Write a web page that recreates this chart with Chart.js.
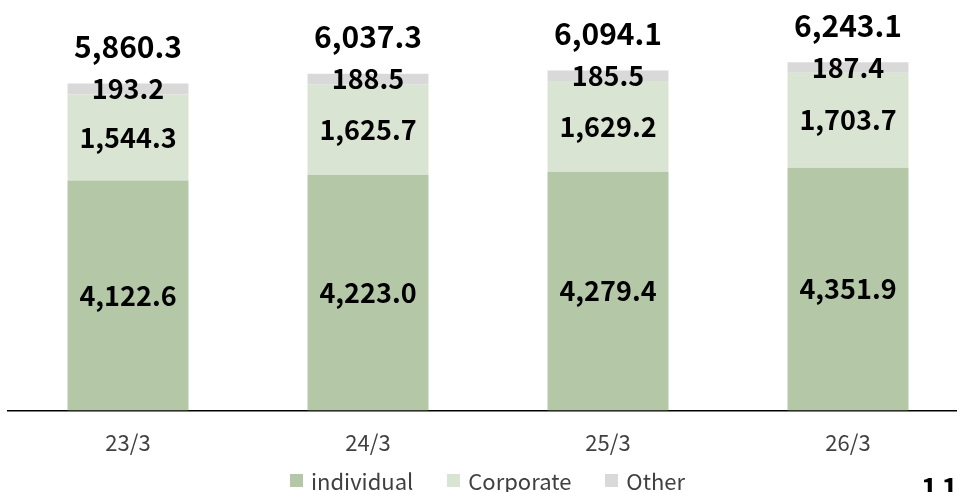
<!DOCTYPE html>
<html>
<head>
<meta charset="utf-8">
<script src="https://cdn.jsdelivr.net/npm/chart.js@4.4.1/dist/chart.umd.min.js"></script>
<style>
  html, body { margin: 0; padding: 0; background: #fff; overflow: hidden; }
  #wrap { position: relative; width: 968px; height: 492px; }
  #pageNo { position: absolute; left: 921px; top: 466px; font: bold 28px "Noto Sans CJK JP", "Noto Sans", sans-serif; color: #000; letter-spacing: 4px; }
  #legend { position: absolute; left: 290px; top: 465px; display: flex; align-items: center;
            font: 22px "Noto Sans CJK JP", "Noto Sans", sans-serif; color: #404040; line-height: 30px; }
  #legend .item { display: flex; align-items: center; margin-right: 34px; }
  #legend .box { width: 13px; height: 13px; margin-right: 8px; }
</style>
</head>
<body>
<div id="wrap">
  <canvas id="salesChart" width="968" height="492"></canvas>
  <div id="legend"></div>
  <div id="pageNo">11</div>
</div>
<script>
// chart data
const categories = ['23/3', '24/3', '25/3', '26/3'];
const individualValues = [4122.6, 4223.0, 4279.4, 4351.9];
const corporateValues = [1544.3, 1625.7, 1629.2, 1703.7];
const otherValues = [193.2, 188.5, 185.5, 187.4];
const totalValues = [5860.3, 6037.3, 6094.1, 6243.1];

const FONT = '"Noto Sans CJK JP", "Noto Sans", sans-serif';

function fmt(v) {
    return v.toLocaleString('en-US', { minimumFractionDigits: 1, maximumFractionDigits: 1 });
}

// segment values in the middle of each piece, totals above the stack
const barLabels = {
    id: 'barLabels',
    afterDatasetsDraw(chart) {
        const ctx = chart.ctx;
        ctx.save();
        ctx.fillStyle = '#000';
        ctx.textAlign = 'center';
        ctx.textBaseline = 'middle';
        ctx.font = 'bold 27px ' + FONT;
        chart.data.datasets.forEach((ds, i) => {
            const meta = chart.getDatasetMeta(i);
            meta.data.forEach((bar, j) => {
                const mid = (bar.y + bar.base) / 2;
                ctx.fillText(fmt(ds.data[j]), bar.x, mid);
            });
        });
        ctx.font = 'bold 30px ' + FONT;
        const topMeta = chart.getDatasetMeta(chart.data.datasets.length - 1);
        topMeta.data.forEach((bar, j) => {
            ctx.fillText(fmt(totalValues[j]), bar.x, bar.y - 37);
        });
        ctx.restore();
    }
};

const ctx = document.getElementById('salesChart').getContext('2d');
const chart = new Chart(ctx, {
    type: 'bar',
    data: {
        labels: categories,
        datasets: [
            { label: 'individual', data: individualValues, backgroundColor: '#b4c7a6' },
            { label: 'Corporate', data: corporateValues, backgroundColor: '#dae4d3' },
            { label: 'Other', data: otherValues, backgroundColor: '#d9d9d9' }
        ]
    },
    options: {
        responsive: false,
        animation: false,
        layout: { padding: { left: 8, right: 0, top: 20, bottom: 25 } },
        datasets: { bar: { categoryPercentage: 1.0, barPercentage: 0.504 } },
        scales: {
            x: {
                stacked: true,
                grid: { display: false },
                border: { display: true, color: '#000', width: 1.5 },
                ticks: { color: '#404040', font: { family: FONT, size: 22 }, padding: 11 }
            },
            y: {
                stacked: true,
                display: false,
                min: 0,
                max: 7000
            }
        },
        plugins: {
            legend: { display: false },
            tooltip: { enabled: false }
        }
    },
    plugins: [barLabels]
});

// simple html legend built from the datasets
const legendEl = document.getElementById('legend');
chart.data.datasets.forEach(ds => {
    const item = document.createElement('div');
    item.className = 'item';
    item.innerHTML = `<span class="box" style="background:${ds.backgroundColor}"></span>${ds.label}`;
    legendEl.appendChild(item);
});
</script>
</body>
</html>
